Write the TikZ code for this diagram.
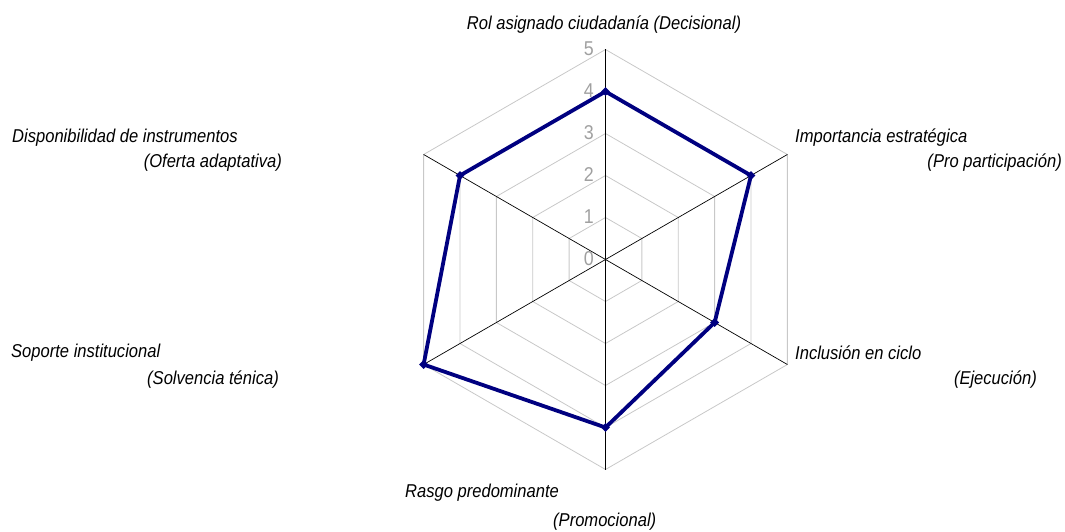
\documentclass[tikz,border=0pt]{standalone}
\usepackage{fontspec}
\setmainfont{Liberation Sans}[FakeStretch=0.89]
\usetikzlibrary{shapes.geometric}
\definecolor{gridgray}{RGB}{200,200,200}
\definecolor{ticktext}{RGB}{160,160,160}
\definecolor{series}{RGB}{0,0,128}
\begin{document}
\begin{tikzpicture}[x=1pt,y=1pt,
  axislabel/.style={inner sep=0pt,font=\fontsize{18.6}{20}\selectfont\itshape},
  ticklabel/.style={inner sep=0pt,anchor=east,text=ticktext,font=\fontsize{20}{22}\selectfont},
  gridline/.style={draw=gridgray,line width=0.8pt},
  spoke/.style={draw=black,line width=0.7pt},
  seriesline/.style={draw=series,line width=3.8pt,line join=miter},
  seriesmark/.style={diamond,fill=series,inner sep=0pt,minimum size=9pt}]
\useasboundingbox (0,0) rectangle (1065,531);
\coordinate (C) at (605.5,271.5);
% concentric hexagons of the scale
\foreach \k in {1,...,5}{
  \draw[gridline] ([shift={(90:\k*42)}]C)
    -- ([shift={(30:\k*42)}]C) -- ([shift={(-30:\k*42)}]C)
    -- ([shift={(-90:\k*42)}]C) -- ([shift={(-150:\k*42)}]C)
    -- ([shift={(150:\k*42)}]C) -- cycle;
}
% spokes
\foreach \a/\n in {90/1,30/2,-30/3,-90/4,-150/5,150/6}{
  \coordinate (a\n) at ([shift={(\a:210)}]C);
  \draw[spoke] (C) -- (a\n);
}
% scale values
\foreach \k in {0,...,5}{
  \node[ticklabel] (t\k) at (594,272.5+\k*42) {\k};
}
% series values
\coordinate (d1) at ([shift={(90:4*42)}]C);
\coordinate (d2) at ([shift={(30:4*42)}]C);
\coordinate (d3) at ([shift={(-30:3*42)}]C);
\coordinate (d4) at ([shift={(-90:4*42)}]C);
\coordinate (d5) at ([shift={(-150:5*42)}]C);
\coordinate (d6) at ([shift={(150:4*42)}]C);
\draw[seriesline] (d1) -- (d2) -- (d3) -- (d4) -- (d5) -- (d6) -- cycle;
\foreach \n in {1,...,6}{
  \node[seriesmark] (m\n) at (d\n) {};
}
% category labels
\node[axislabel] (l1) at (604,506) {Rol asignado ciudadanía (Decisional)};
\node[axislabel,anchor=west] (l2a) at (795,393) {Importancia estratégica};
\node[axislabel,anchor=east] (l2b) at (1062,368) {(Pro participación)};
\node[axislabel,anchor=west] (l3a) at (795,178) {Inclusión en ciclo};
\node[axislabel,anchor=east] (l3b) at (1037,151) {(Ejecución)};
\node[axislabel,anchor=west] (l4a) at (405,38) {Rasgo predominante};
\node[axislabel,anchor=west] (l4b) at (553,9) {(Promocional)};
\node[axislabel,anchor=west] (l5a) at (11,178) {Soporte institucional};
\node[axislabel,anchor=east] (l5b) at (279,151) {(Solvencia ténica)};
\node[axislabel,anchor=west] (l6a) at (12,393) {Disponibilidad de instrumentos};
\node[axislabel,anchor=east] (l6b) at (282,368) {(Oferta adaptativa)};
\end{tikzpicture}
\end{document}
